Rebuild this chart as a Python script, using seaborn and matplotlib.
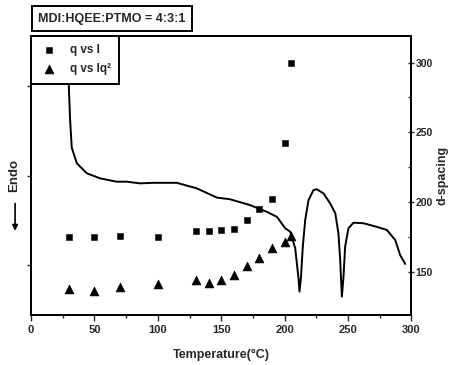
import matplotlib
matplotlib.use("Agg")
import matplotlib.pyplot as plt
import seaborn as sns
import pandas as pd

# datos
temp_pts = [30, 50, 70, 100, 130, 140, 150, 160, 170, 180, 190, 200, 205]
d_I = [175, 175, 176, 175, 179, 179, 180, 181, 187, 195, 202, 242, 300]
temp_tri = [30, 50, 70, 100, 130, 140, 150, 160, 170, 180, 190, 200, 205]
d_Iq2 = [138, 136, 139, 141, 144, 142, 144, 148, 154, 160, 167, 171, 176]

# curva DSC (unidades arbitrarias)
dsc_T = [29.3, 29.6, 30.8, 32.1, 36.1, 44, 54.5, 67.6, 75.5, 86, 96.5, 115, 130.8,
         146.6, 157, 172.8, 186, 194, 200.5, 204.4, 208.4, 211, 211.8, 212.9, 214.4,
         216.3, 218.9, 222.8, 225.5, 230.7, 236, 240, 242.5, 243.9, 245.2, 246.5,
         247.8, 250.4, 254.4, 262.3, 272.8, 280.7, 287.3, 291.2, 295.2]
dsc_val = [9.9, 8.4, 7.0, 6.0, 5.44, 5.08, 4.90, 4.78, 4.78, 4.72, 4.74, 4.74, 4.54,
           4.21, 4.15, 3.94, 3.70, 3.52, 3.11, 2.99, 2.39, 1.32, 0.84, 1.32, 2.45,
           3.41, 4.12, 4.48, 4.51, 4.36, 4.00, 3.65, 2.93, 1.97, 0.66, 1.37, 2.45,
           3.11, 3.31, 3.29, 3.16, 3.05, 2.69, 2.15, 1.83]

sns.set_style("ticks")
plt.rcParams['font.family'] = ['Liberation Sans', 'DejaVu Sans']

fig = plt.figure(figsize=(4.57, 3.65), dpi=100)
ax = fig.add_axes([0.068, 0.137, 0.832, 0.764])

dsc = pd.DataFrame({"T": dsc_T, "v": dsc_val})
sns.lineplot(data=dsc, x="T", y="v", sort=False, color="black", lw=1.4, ax=ax)
ax.set_xlim(0, 300)
ax.set_ylim(0, 10)
ax.set_xticks(range(0, 301, 50))
ax.set_xticks(range(25, 300, 50), minor=True)
ax.set_yticks([1.8, 5.0, 8.2])
ax.set_yticklabels([])
ax.set_xlabel("Temperature(°C)", fontsize=9, fontweight="bold", labelpad=10)
ax.set_ylabel("")
ax.tick_params(axis="x", labelsize=8, length=4, width=1, direction="out")
ax.tick_params(axis="x", which="minor", length=2.5, width=1, direction="out")
ax.tick_params(axis="y", length=3, width=1, direction="out")
for lbl in ax.get_xticklabels():
    lbl.set_fontweight("bold")

# eje derecho: d-spacing
ax2 = ax.twinx()
sq = pd.DataFrame({"T": temp_pts, "d": d_I})
tr = pd.DataFrame({"T": temp_tri, "d": d_Iq2})
sns.scatterplot(data=sq, x="T", y="d", marker="s", s=22, color="black",
                edgecolor="black", label="q vs I", ax=ax2)
sns.scatterplot(data=tr, x="T", y="d", marker="^", s=40, color="black",
                edgecolor="black", label="q vs Iq²", ax=ax2)
ax2.set_ylim(119, 319)
ax2.set_yticks([150, 200, 250, 300])
ax2.set_yticks([175, 225, 275], minor=True)
ax2.set_ylabel("d-spacing", fontsize=9, fontweight="bold", rotation=90, labelpad=3)
ax2.tick_params(axis="y", labelsize=7.5, length=4, width=1, direction="inout", pad=1)
ax2.tick_params(axis="y", which="minor", length=2.5, width=1, direction="in")
for lbl in ax2.get_yticklabels():
    lbl.set_fontweight("bold")

for a in (ax, ax2):
    for sp in a.spines.values():
        sp.set_linewidth(1.4)
        sp.set_color("black")

leg = ax2.legend(loc="upper left", borderaxespad=0, fancybox=False, frameon=True,
                 edgecolor="black", fontsize=8.5, handletextpad=1.0, borderpad=0.7,
                 labelspacing=0.6, handlelength=1.6)
leg.get_frame().set_linewidth(1.4)
leg.get_frame().set_alpha(1)
for t in leg.get_texts():
    t.set_fontweight("bold")

fig.text(0.245, 0.949, "MDI:HQEE:PTMO = 4:3:1", ha="center", va="center",
         fontsize=9, fontweight="bold",
         bbox=dict(boxstyle="square,pad=0.5", facecolor="white", edgecolor="black", lw=1.4))

fig.text(0.03, 0.52, "Endo", rotation=90, ha="center", va="center",
         fontsize=9.5, fontweight="bold")
ax.annotate("", xy=(0.033, 0.36), xytext=(0.033, 0.45), xycoords="figure fraction",
            textcoords="figure fraction",
            arrowprops=dict(arrowstyle="-|>", color="black", lw=1.2, mutation_scale=8))

fig.savefig("out.png", dpi=100)
